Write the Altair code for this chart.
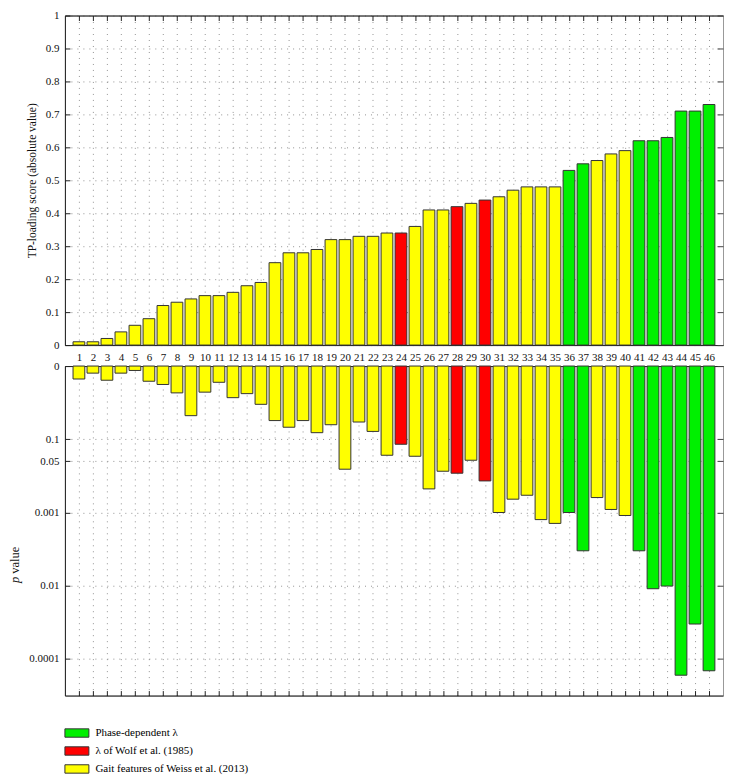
import altair as alt
import pandas as pd

# ---------------- data ----------------
features = list(range(1, 47))
tp_loading = [0.01, 0.01, 0.02, 0.04, 0.06, 0.08, 0.12, 0.13, 0.14, 0.15,
              0.15, 0.16, 0.18, 0.19, 0.25, 0.28, 0.28, 0.29, 0.32, 0.32,
              0.33, 0.33, 0.34, 0.34, 0.36, 0.41, 0.41, 0.42, 0.43, 0.44,
              0.45, 0.47, 0.48, 0.48, 0.48, 0.53, 0.55, 0.56, 0.58, 0.59,
              0.62, 0.62, 0.63, 0.71, 0.71, 0.73]
p_values = [0.665, 0.80, 0.64, 0.80, 0.87, 0.62, 0.56, 0.43, 0.21, 0.44,
            0.60, 0.37, 0.42, 0.30, 0.18, 0.146, 0.18, 0.123, 0.158, 0.039,
            0.172, 0.128, 0.0605, 0.0855, 0.0586, 0.021, 0.0366, 0.0344, 0.0517, 0.027,
            0.0100, 0.0152, 0.0172, 0.0080, 0.0071, 0.0100, 0.0030, 0.0160, 0.0110, 0.0091,
            0.0030, 0.00091, 0.00099, 0.00006, 0.00030, 0.000069]
group_codes = (["W"] * 23 + ["L"] + ["W"] * 3 + ["L"] + ["W"] + ["L"] + ["W"] * 5
               + ["P"] * 2 + ["W"] * 3 + ["P"] * 6)
categories = ["Phase-dependent λ", "λ of Wolf et al. (1985)", "Gait features of Weiss et al. (2013)"]
code_names = {"P": categories[0], "L": categories[1], "W": categories[2]}
colors = ["#00F000", "#FF0000", "#FFFF00"]

tp_ticks = [round(0.1 * i, 1) for i in range(11)]
p_ticks = [1, 0.1, 0.05, 0.01, 0.001, 0.0001]

df = pd.DataFrame({
    "feature": features,
    "tp": tp_loading,
    "p": p_values,
    "group": [code_names[c] for c in group_codes],
})

W, H = 659, 330
FONT = "Liberation Serif"
DARK = "#222222"

xscale = alt.Scale(domain=[0, 47], nice=False, zero=False)
yscale_top = alt.Scale(domain=[0, 1], nice=False, zero=True)
yscale_bot = alt.Scale(type="log", domain=[10 ** -4.5, 1], nice=False)
color = alt.Color("group:N", scale=alt.Scale(domain=categories, range=colors), legend=None)

base = alt.Chart(df).transform_calculate(
    x0="datum.feature - 0.42", x1="datum.feature + 0.42", one="1", zero="0"
)

grid_kw = dict(grid=True, gridColor="#888888", gridDash=[1, 5], gridWidth=1, gridOpacity=0.9)

# ---------------- top panel ----------------
top_bars = base.mark_bar(stroke="#333333", strokeWidth=1).encode(
    x=alt.X("x0:Q", scale=xscale, axis=alt.Axis(
        orient="bottom", values=features, format="d", ticks=False, domain=True,
        domainColor=DARK, labelPadding=6, labelFontSize=11, title=None, **grid_kw)),
    x2="x1:Q",
    y=alt.Y("tp:Q", scale=yscale_top, axis=alt.Axis(
        orient="left", values=tp_ticks, format=".1~f", ticks=False, domain=True,
        domainColor=DARK, labelPadding=6, labelFontSize=11,
        title="TP-loading score (absolute value)", titleFontSize=11.5,
        titleFontWeight="normal", titlePadding=8, **grid_kw)),
    y2="zero:Q",
    color=color,
)
top_ticks1 = base.mark_point(opacity=0).encode(
    x=alt.X("feature:Q", scale=xscale, axis=alt.Axis(
        orient="bottom", offset=-H, values=features, labels=False, ticks=True,
        tickSize=5, tickColor=DARK, domain=True, domainColor=DARK, grid=False, title=None)),
    y=alt.Y("tp:Q", scale=yscale_top, axis=alt.Axis(
        orient="right", offset=-W, values=tp_ticks, labels=False, ticks=True,
        tickSize=5, tickColor=DARK, domain=False, grid=False, title=None)),
)
top_ticks2 = base.mark_point(opacity=0).encode(
    y=alt.Y("tp:Q", scale=yscale_top, axis=alt.Axis(
        orient="left", offset=-W, values=tp_ticks, labels=False, ticks=True,
        tickSize=6, tickColor="#444444", domain=False, grid=False, title=None)),
)
top = alt.layer(top_bars, top_ticks1, top_ticks2).resolve_axis(
    x="independent", y="independent").properties(width=W, height=H)

# ---------------- bottom panel ----------------
p_label_expr = ("datum.value >= 0.9 ? '0' : datum.value >= 0.09 ? '0.1' : "
                "datum.value >= 0.04 ? '0.05' : datum.value >= 0.009 ? '0.001' : "
                "datum.value >= 0.0009 ? '0.01' : '0.0001'")

bot_bars = base.mark_bar(stroke="#333333", strokeWidth=1).encode(
    x=alt.X("x0:Q", scale=xscale, axis=alt.Axis(
        orient="top", offset=-H, values=features, labels=False, ticks=True,
        tickSize=5, tickColor=DARK, domain=True, domainColor=DARK, title=None, **grid_kw)),
    x2="x1:Q",
    y=alt.Y("p:Q", scale=yscale_bot, axis=alt.Axis(
        orient="left", values=p_ticks, labelExpr=p_label_expr, ticks=False,
        domain=True, domainColor=DARK, labelPadding=6, labelFontSize=11,
        title=None, **grid_kw)),
    y2="one:Q",
    color=alt.Color("group:N", scale=alt.Scale(domain=categories, range=colors),
                    legend=alt.Legend(
                        title=None, orient="none", legendX=5.5, legendY=361,
                        direction="vertical",
                        symbolType="M-2,-0.7H2V0.7H-2Z", symbolSize=144,
                        symbolStrokeColor="#333333", symbolStrokeWidth=1,
                        symbolOpacity=1, labelFont=FONT, labelFontSize=11,
                        labelOffset=12, rowPadding=5, padding=0, labelLimit=400)),
)
bot_ticks1 = base.mark_point(opacity=0).encode(
    x=alt.X("feature:Q", scale=xscale, axis=alt.Axis(
        orient="bottom", offset=-H, labels=False, ticks=False, domain=True,
        domainColor=DARK, grid=False, title=None)),
    y=alt.Y("p:Q", scale=yscale_bot, axis=alt.Axis(
        orient="right", offset=-W, values=p_ticks, labels=False, ticks=True,
        tickSize=5, tickColor=DARK, domain=False, grid=False, title=None)),
)
bot_ticks2 = base.mark_point(opacity=0).encode(
    y=alt.Y("p:Q", scale=yscale_bot, axis=alt.Axis(
        orient="left", offset=-W, values=p_ticks, labels=False, ticks=True,
        tickSize=6, tickColor="#444444", domain=False, grid=False, title=None)),
)
title_p = alt.Chart(pd.DataFrame({"t": ["p"]})).mark_text(
    angle=270, align="right", baseline="alphabetic", fontStyle="italic",
    font=FONT, fontSize=12.5, color="#111111").encode(
    text="t:N", x=alt.value(-46), y=alt.value(211))
title_v = alt.Chart(pd.DataFrame({"t": ["value"]})).mark_text(
    angle=270, align="left", baseline="alphabetic",
    font=FONT, fontSize=12.5, color="#111111").encode(
    text="t:N", x=alt.value(-46), y=alt.value(208))

bottom = alt.layer(bot_bars, bot_ticks1, bot_ticks2, title_p, title_v).resolve_axis(
    x="independent", y="independent").properties(width=W, height=H)

chart = alt.vconcat(top, bottom, spacing=-4).resolve_legend(
    color="independent"
).properties(
    padding={"left": 0, "top": 0, "right": 0, "bottom": 0}
).configure(font=FONT).configure_view(
    stroke="#999999", strokeWidth=1
).configure_axis(
    labelFont=FONT, titleFont=FONT, labelColor="#111111", titleColor="#111111"
)

chart.save("out.html", embed_options={"renderer": "svg", "actions": False})
